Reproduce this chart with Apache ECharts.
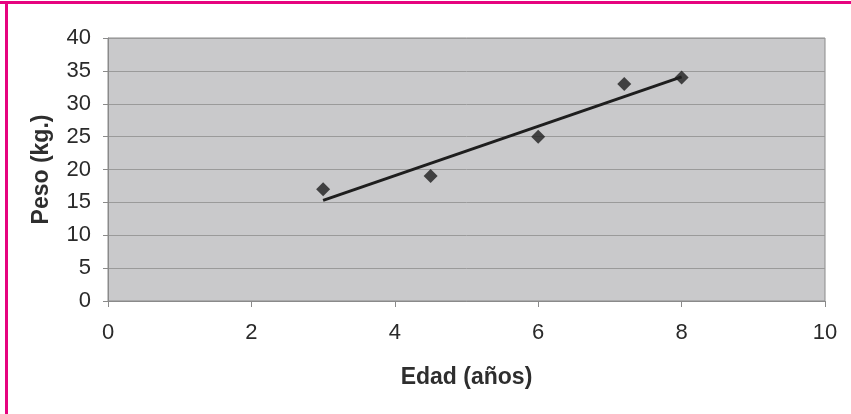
<!DOCTYPE html>
<html>
<head>
<meta charset="utf-8">
<script src="https://cdn.jsdelivr.net/npm/echarts@6/dist/echarts.min.js"></script>
<style>
html,body{margin:0;padding:0;background:#fff;}
#chart{width:851px;height:414px;}
</style>
</head>
<body>
<div id="chart"></div>
<script>
// Data
const edad = [3, 4.5, 6, 7.2, 8];
const peso = [17, 19, 25, 33, 34];
const xTicks = [0, 2, 4, 6, 8, 10];
const yTicks = [0, 5, 10, 15, 20, 25, 30, 35, 40];
const xTitle = 'Edad (años)';
const yTitle = 'Peso (kg.)';

// linear trendline (least squares) through the data points
const n = edad.length;
const mx = edad.reduce((a, b) => a + b, 0) / n;
const my = peso.reduce((a, b) => a + b, 0) / n;
let sxy = 0, sxx = 0;
for (let i = 0; i < n; i++) { sxy += (edad[i] - mx) * (peso[i] - my); sxx += (edad[i] - mx) ** 2; }
const slope = sxy / sxx, icpt = my - slope * mx;
const xMin = Math.min(...edad), xMax = Math.max(...edad);
const trend = [[xMin, icpt + slope * xMin], [xMax, icpt + slope * xMax]];

const chart = echarts.init(document.getElementById('chart'), null, {renderer: 'canvas'});
const font = 'Liberation Sans, Arial, sans-serif';
chart.setOption({
  backgroundColor: '#ffffff',
  animation: false,
  graphic: [
    {type: 'rect', left: 0, top: 1, shape: {width: 851, height: 3}, style: {fill: '#e6037f'}, z: 100},
    {type: 'rect', left: 5, top: 1, shape: {width: 3, height: 413}, style: {fill: '#e6037f'}, z: 100}
  ],
  grid: {
    left: 108, right: 26, top: 38, bottom: 113,
    show: true, backgroundColor: '#c9c9cb', borderColor: '#8a8a8a', borderWidth: 1
  },
  xAxis: {
    type: 'value', min: xTicks[0], max: xTicks[xTicks.length - 1], interval: 2,
    name: xTitle, nameLocation: 'middle', nameGap: 65,
    nameTextStyle: {fontFamily: font, fontSize: 23, fontWeight: 'bold', color: '#2e2e2e'},
    axisLine: {show: true, lineStyle: {color: '#8a8a8a', width: 1}},
    axisTick: {show: true, length: 6, lineStyle: {color: '#8a8a8a'}},
    axisLabel: {fontFamily: font, fontSize: 22, color: '#2a2a2a', margin: 21},
    splitLine: {show: false}
  },
  yAxis: {
    type: 'value', min: yTicks[0], max: yTicks[yTicks.length - 1], interval: 5,
    name: yTitle, nameLocation: 'middle', nameGap: 55, nameRotate: 90,
    nameTextStyle: {fontFamily: font, fontSize: 23, fontWeight: 'bold', color: '#2e2e2e'},
    axisLine: {show: true, lineStyle: {color: '#8a8a8a', width: 1}},
    axisTick: {show: true, inside: false, length: 5, lineStyle: {color: '#8a8a8a'}},
    axisLabel: {fontFamily: font, fontSize: 22, color: '#2a2a2a', margin: 17},
    splitLine: {show: true, lineStyle: {color: '#9a9a9a', width: 1}}
  },
  series: [
    {
      type: 'line', data: trend, showSymbol: false, symbol: 'none',
      lineStyle: {color: '#1e1e1e', width: 3}, z: 2, silent: true
    },
    {
      type: 'scatter', data: edad.map((x, i) => [x, peso[i]]),
      symbol: 'diamond', symbolSize: 14,
      itemStyle: {color: '#1e1e1e'}, z: 3
    }
  ]
});
</script>
</body>
</html>
